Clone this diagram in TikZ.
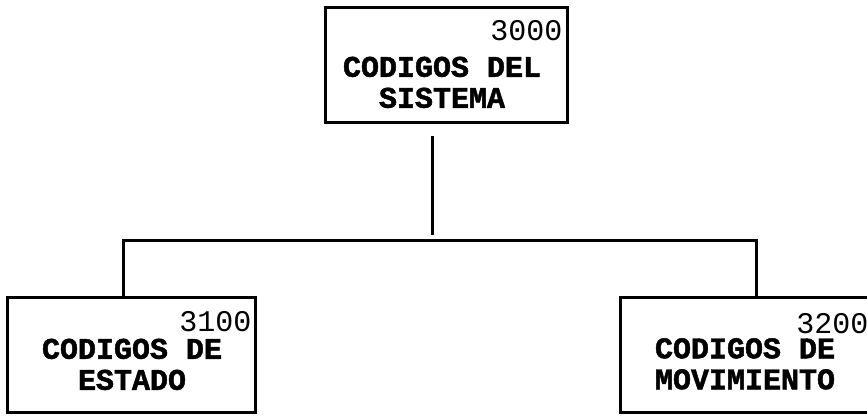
\documentclass[tikz,border=0pt]{standalone}
\usepackage{fontspec}
\setmonofont[BoldFeatures={FakeBold=1.6}]{Liberation Mono}
\usetikzlibrary{positioning, calc}

\begin{document}
\begin{tikzpicture}[x=1pt, y=1pt,
    unit/.style={rectangle, draw=black, line width=3pt, minimum width=#1,
      minimum height=115pt, inner sep=0pt},
    code/.style={font=\ttfamily\fontsize{30}{30}\selectfont, inner sep=0pt},
    title/.style={font=\ttfamily\bfseries\fontsize{30}{31}\selectfont,
      align=center, inner sep=0pt},
    rel/.style={line width=3pt, black}]

  \clip (0,0) rectangle (867,-415);

  % top box: 3000
  \node[unit=242pt] (sys) at (446,-64.5) {};
  \node[code, below left=15pt and 6pt of sys.north east] (sysnum) {3000};
  \node[title, below=51pt of sys.north, xshift=-4pt] (systxt) {CODIGOS DEL\\SISTEMA};

  % left box: 3100
  \node[unit=248pt] (est) at (131,-354.5) {};
  \node[code, below left=16pt and 5pt of est.north east] (estnum) {3100};
  \node[title, below=43pt of est.north, xshift=1pt] (esttxt) {CODIGOS DE\\ESTADO};

  % right box: 3200
  \node[unit=252pt] (mov) at (746,-355) {};
  \node[code, below left=17pt and 5pt of mov.north east] (movnum) {3200};
  \node[title, below=42pt of mov.north, xshift=-1pt] (movtxt) {CODIGOS DE\\MOVIMIENTO};

  % connectors
  \coordinate (fork) at (432,-240);
  \draw[rel, shorten <=12pt, shorten >=5pt] (sys.south -| fork) -- (fork);
  \draw[rel] ([xshift=-8pt]est.north) |- (fork) -| ([xshift=10pt]mov.north);

\end{tikzpicture}
\end{document}
